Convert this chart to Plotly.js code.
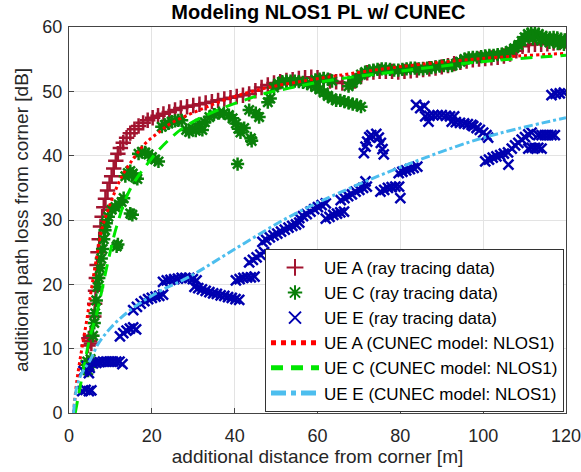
<!DOCTYPE html>
<html>
<head>
<meta charset="utf-8">
<script src="https://cdn.plot.ly/plotly-3.0.1.min.js"></script>
<style>html,body{margin:0;padding:0;background:#fff;}#chart{width:581px;height:472px;}</style>
</head>
<body>
<div id="chart"></div>
<script>
// ---------------- data ----------------
const chartTitle = "Modeling NLOS1 PL w/ CUNEC";
const xTitle = "additional distance from corner [m]";
const yTitle = "additional path loss from corner [dB]";
const seriesNames = ["UE A (ray tracing data)", "UE C (ray tracing data)", "UE E (ray tracing data)",
  "UE A (CUNEC model: NLOS1)", "UE C (CUNEC model: NLOS1)", "UE E (CUNEC model: NLOS1)"];
const xTicks = [0, 20, 40, 60, 80, 100, 120];
const yTicks = [0, 10, 20, 30, 40, 50, 60];

// UE A ray tracing data
const aX = [4.6,5.0,5.4,5.2,4.8,
  6.0,6.2,6.4,6.6,6.8,7.0,7.3,7.6,8.0,8.4,8.8,9.3,9.8,10.3,10.8,11.3,11.8,12.4,13.1,13.9,14.8,15.8,16.8,17.9,19,20.2,21.5,22.8,24.2,25.6,27,28.5,30,31.5,33,34.5,36,37.5,39,40.5,42,43.5,45,46.5,48,49.5,51,52.5,54,55.5,57,58.5,60,61.5,63,64.5,66,67.5,69,70.5,72,73.5,75,76.5,78,79.5,81,82.5,84,85.5,87,88.5,90,91.5,93,94.5,96,97.5,99,100.5,102,103.5,105,106.5,108,109.5,111,112.5,114,115.5,117,118.5,120];
const aY = [10.5,11.2,10.8,12.0,11.6,
  15,17,19,21,23,25,27,29,30.5,32,33.3,34.6,35.8,36.8,38,39.2,40.3,41.2,42.0,42.8,43.5,44.1,44.6,45.1,45.5,45.9,46.2,46.5,46.8,47.1,47.4,47.6,47.8,48.0,48.2,48.4,48.6,48.8,49.0,49.2,49.4,49.6,50.1,50.6,51.0,51.3,51.5,51.7,51.8,52.0,52.1,52.2,52.1,51.8,51.6,51.5,51.3,51.3,51.6,52.3,52.9,53.0,53.1,53.1,53.1,53.0,53.1,53.2,53.3,53.4,53.5,53.6,53.8,54.0,54.3,54.5,54.7,54.9,55.0,55.1,55.2,55.3,55.5,55.8,56.3,57.0,57.2,57.3,57.3,57.4,57.5,57.6,57.8];

// UE C ray tracing data
const cX = [4.0,4.4,4.8,5.2,4.6,5.5,
  5.8,6.1,6.3,6.6,6.9,7.2,7.5,7.8,8.1,8.4,8.7,9.0,9.5,10.3,11.2,12.0,12.7,13.2,
  11.5,11.8,14.8,15.3,
  13.6,14.2,14.8,15.4,16.0,16.5,
  16.8,17.6,18.4,19.2,20.0,20.8,21.6,
  22.4,23.2,24.0,24.8,25.6,26.4,27.2,
  28.3,29.0,29.8,30.6,31.4,32.2,31.5,
  32.8,33.9,35.0,36.2,37.4,38.6,39.5,40.3,40.9,41.4,
  42.3,43.9,44.1,40.7,43.5,45.1,45.9,48.0,48.6,
  49.5,50.5,51.5,52.5,53.5,54.5,55.5,56.5,57.5,58.5,59.5,60.5,61.5,62.5,63.5,64.5,65.5,66.5,67.5,68.5,69.5,70.5,
  59.5,60.5,61.5,62.5,63.5,
  67.5,68.5,69.5,70.5,71.5,
  72.5,73.5,74.5,75.5,76.5,77.5,78.5,79.5,80.5,81.5,82.5,83.5,84.5,85.5,86.5,87.5,88.5,89.5,90.5,91.5,92.5,93.5,94.5,95.5,96.5,97.5,98.5,99.5,100.5,101.5,102.5,103.5,104.5,105.5,106.5,107.5,108.5,109.3,110.0,110.8,111.6,112.5,113.4,114.3,115.2,116.1,117.0,117.9,118.8,119.7,
  112.0,114.0,116.0,118.0,119.5];
const cY = [7.5,8.0,7.2,8.4,6.6,7.8,
  12,14,15.5,17.5,19.6,21,22.5,24,25.5,27,28.4,29.5,30.5,31.6,32.0,32.4,32.8,33.4,
  25.9,26.2,31.0,30.8,
  36.8,37.3,37.6,37.2,36.6,36.4,
  40.3,40.6,40.5,40.2,39.8,39.4,39.1,
  44.5,44.8,45.0,45.3,45.4,45.5,45.5,
  44.0,43.7,44.2,43.9,44.4,44.0,44.9,
  45.2,46.0,46.4,46.6,46.6,46.3,45.8,45.0,44.2,43.6,
  44.3,42.7,42.3,38.7,47.1,46.6,46.0,48.3,48.9,
  50.6,51.2,51.5,51.6,51.6,51.6,51.5,51.4,51.2,51.0,50.7,50.3,49.8,49.3,48.9,48.6,48.6,48.4,48.2,48.0,47.9,47.6,
  51.8,51.9,52.0,51.9,51.6,
  50.8,51.3,51.9,52.6,53.0,
  53.2,53.3,53.4,53.5,53.5,53.4,53.3,53.3,53.4,53.5,53.6,53.6,53.5,53.5,53.6,53.7,53.8,53.9,54.0,54.0,54.0,54.3,54.6,55.0,55.2,55.3,55.3,55.4,55.5,55.6,55.6,55.7,55.8,56.0,56.3,56.7,57.2,57.8,58.4,58.9,59.1,59.1,58.9,58.6,58.4,58.3,58.4,58.3,58.1,58.0,
  58.2,57.9,57.6,57.4,57.3];

// UE E ray tracing data
const eX = [3.2,4.0,4.8,5.4,
  3.5,4.3,4.8,5.0,5.8,6.6,7.4,8.2,9.0,9.8,10.6,11.4,12.2,12.9,
  12.3,13.1,13.9,14.7,15.5,16.2,
  15.5,16.4,17.3,18.2,19.1,20,20.9,21.8,22.7,
  22.7,23.6,24.5,25.4,26.3,27.2,28.1,29,29.9,30.8,
  30.3,31.2,32.1,33,33.9,34.8,35.7,36.6,37.5,38.4,39.3,40.2,41.1,
  40.3,41.2,42.1,43.0,43.9,44.8,
  43.5,44.4,45.3,46.2,47.1,
  46.7,47.6,48.5,49.4,50.3,51.2,52.1,53.0,53.9,54.8,55.6,
  55.6,56.5,57.4,58.3,59.2,60.1,61,62,
  62,62.9,63.8,64.7,65.5,66.4,
  65.6,66.5,67.4,68.3,69.2,70.1,71.0,71.9,
  71.6,80.0,86.8,
  75.2,76.1,77.0,77.9,78.8,79.7,
  79.6,80.5,81.4,82.3,83.2,84.1,
  71.2,71.6,72.0,72.5,73.0,74.2,74.8,75.3,75.7,76.0,
  83.8,84.8,85.8,
  86.0,87.0,88.0,89.0,90.0,91.0,92.0,93.0,
  92.4,93.4,94.4,95.4,96.3,97.2,
  97.6,98.4,99.2,100,100.8,101.2,
  100.5,101.4,102.3,103.2,104.1,105,106,
  106.1,
  106.9,107.7,108.5,109.3,110.1,110.9,111.7,
  110.9,111.7,112.5,113.3,114.1,
  113.3,114.1,114.9,115.7,116.5,117.3,
  116.5,117.5,118.5,119.5];
const eY = [3.4,3.6,3.4,3.5,
  6.5,7.3,6.2,7.0,7.7,7.8,7.9,8.0,8.0,8.0,8.0,8.0,8.0,7.6,
  11.9,12.4,12.8,13.1,13.3,13.0,
  16.0,16.5,17.0,17.4,17.7,17.9,18.1,18.2,18.4,
  20.4,20.6,20.7,20.8,20.9,21.0,21.0,21.0,20.8,20.6,
  19.6,19.4,19.2,19.0,18.8,18.6,18.5,18.3,18.2,18.0,17.9,17.7,17.6,
  20.6,20.8,21.0,21.1,21.1,21.2,
  23.4,23.8,24.2,24.6,25.0,
  26.6,26.9,27.3,27.6,27.9,28.2,28.5,28.8,29.1,29.3,29.6,
  30.3,30.6,30.9,31.3,31.7,32.0,32.3,32.6,
  30.2,30.5,30.8,31.0,31.2,31.3,
  33.1,33.4,33.7,34.0,34.4,34.7,35.0,35.2,
  36.0,33.4,45.3,
  34.4,34.7,35.0,35.1,35.2,35.2,
  37.3,37.5,37.7,37.9,38.1,38.3,
  40.4,41.4,42.2,42.9,43.2,43.4,42.8,42.0,41.0,40.2,
  47.9,47.4,47.7,
  46.1,46.2,46.3,46.3,46.3,46.2,46.1,46.1,
  45.3,45.2,45.1,45.0,44.9,44.8,
  44.6,44.3,44.0,43.6,43.2,42.8,
  39.1,39.4,39.7,39.9,40.1,40.3,40.5,
  38.6,
  41.1,41.6,42.0,42.5,42.9,43.3,43.6,
  41.1,41.2,41.2,41.2,41.1,
  43.2,43.2,43.2,43.2,43.2,43.2,
  49.4,49.6,49.7,49.8];

// CUNEC model curves
const modelAX = [1.1,1.9,3.1,4.3,5.5,6.7,7.9,10.3,12.7,15.6,18.4,21.6,24.8,31.5,39.5,47.5,55.6,64.4,79.6,99.6,120];
const modelAY = [0,5,10,14.5,19.6,24.3,28.5,33.1,36.7,39.6,41.9,43.6,45.1,47.1,49.1,50.5,51.5,52.4,53.8,55.1,55.9];
const modelCX = [1.5,2.7,3.9,5.1,6.7,9.5,11.5,14.7,20,24,27.5,31.5,37.1,42.7,47.5,53.2,62.8,79.6,99.6,120];
const modelCY = [0,4.1,8.2,11.9,15.5,23.8,29,34.7,39.6,42.4,44.3,45.8,47.4,48.7,49.7,50.5,51.7,53.1,54.6,55.6];
const modelEX = [1.1,1.9,3.1,5.1,7.1,10.3,14.4,18.4,22.4,29.1,41.1,53.2,65.2,80.4,99.6,120];
const modelEY = [0,4.1,6.2,8.2,10.8,13.4,15.8,17.6,19.1,21.2,25.9,30.5,34.2,38.3,42.7,45.9];

// ---------------- styles ----------------
const colA = '#a2142f', colC = '#0a800a', colE = '#0000b0';
const FONT = '"Liberation Sans", Arial, Helvetica, sans-serif';

const traces = [
  {x: aX, y: aY, name: seriesNames[0], type: 'scatter', mode: 'markers',
   marker: {symbol: 'cross-thin-open', size: 11, color: colA, line: {color: colA, width: 2.5}}},
  {x: cX, y: cY, name: seriesNames[1], type: 'scatter', mode: 'markers',
   marker: {symbol: 'asterisk-open', size: 11, color: colC, line: {color: colC, width: 2.5}}},
  {x: eX, y: eY, name: seriesNames[2], type: 'scatter', mode: 'markers',
   marker: {symbol: 'x-thin-open', size: 10, color: colE, line: {color: colE, width: 2.5}}},
  {x: modelAX, y: modelAY, name: seriesNames[3], type: 'scatter', mode: 'lines',
   line: {color: '#ff0000', width: 3, dash: 'dot', shape: 'spline'}},
  {x: modelCX, y: modelCY, name: seriesNames[4], type: 'scatter', mode: 'lines',
   line: {color: '#00e600', width: 3, dash: '12px,8px', shape: 'spline'}},
  {x: modelEX, y: modelEY, name: seriesNames[5], type: 'scatter', mode: 'lines',
   line: {color: '#4dbeee', width: 3, dash: 'dashdot', shape: 'spline'}}
];

const axisCommon = {
  showgrid: true, gridcolor: '#e3e3e3', gridwidth: 1,
  zeroline: false, showline: true, mirror: true, linecolor: '#444', linewidth: 1,
  ticks: 'inside', ticklen: 5, tickcolor: '#444',
  tickfont: {family: FONT, size: 18, color: '#262626'},
  ticklabeloverflow: 'allow',
  automargin: false
};

const layout = {
  width: 581, height: 472,
  margin: {l: 69, r: 15, t: 27, b: 59},
  paper_bgcolor: '#ffffff', plot_bgcolor: '#ffffff',
  font: {family: FONT, color: '#262626'},
  title: {text: '<b>' + chartTitle + '</b>', font: {family: FONT, size: 20, color: '#000'},
          x: 0.548, xanchor: 'center', y: 0.974, yanchor: 'middle'},
  xaxis: Object.assign({}, axisCommon, {range: [0, 120], tickvals: xTicks, ticktext: xTicks.map(String),
    ticklabelstandoff: 6,
    title: {text: xTitle, font: {family: FONT, size: 19, color: '#262626'}, standoff: 4}}),
  yaxis: Object.assign({}, axisCommon, {range: [0, 60], tickvals: yTicks, ticktext: yTicks.map(String),
    ticklabelstandoff: 2,
    title: {text: yTitle, font: {family: FONT, size: 19, color: '#262626'}, standoff: 8}}),
  showlegend: true,
  legend: {x: 0.996, xanchor: 'right', y: 0.003, yanchor: 'bottom',
           bgcolor: '#ffffff', bordercolor: '#333', borderwidth: 1, itemsizing: 'constant',
           itemwidth: 48,
           font: {family: FONT, size: 17, color: '#000'}, tracegroupgap: 0}
};

Plotly.newPlot('chart', traces, layout, {displayModeBar: false, staticPlot: true});
</script>
</body>
</html>
